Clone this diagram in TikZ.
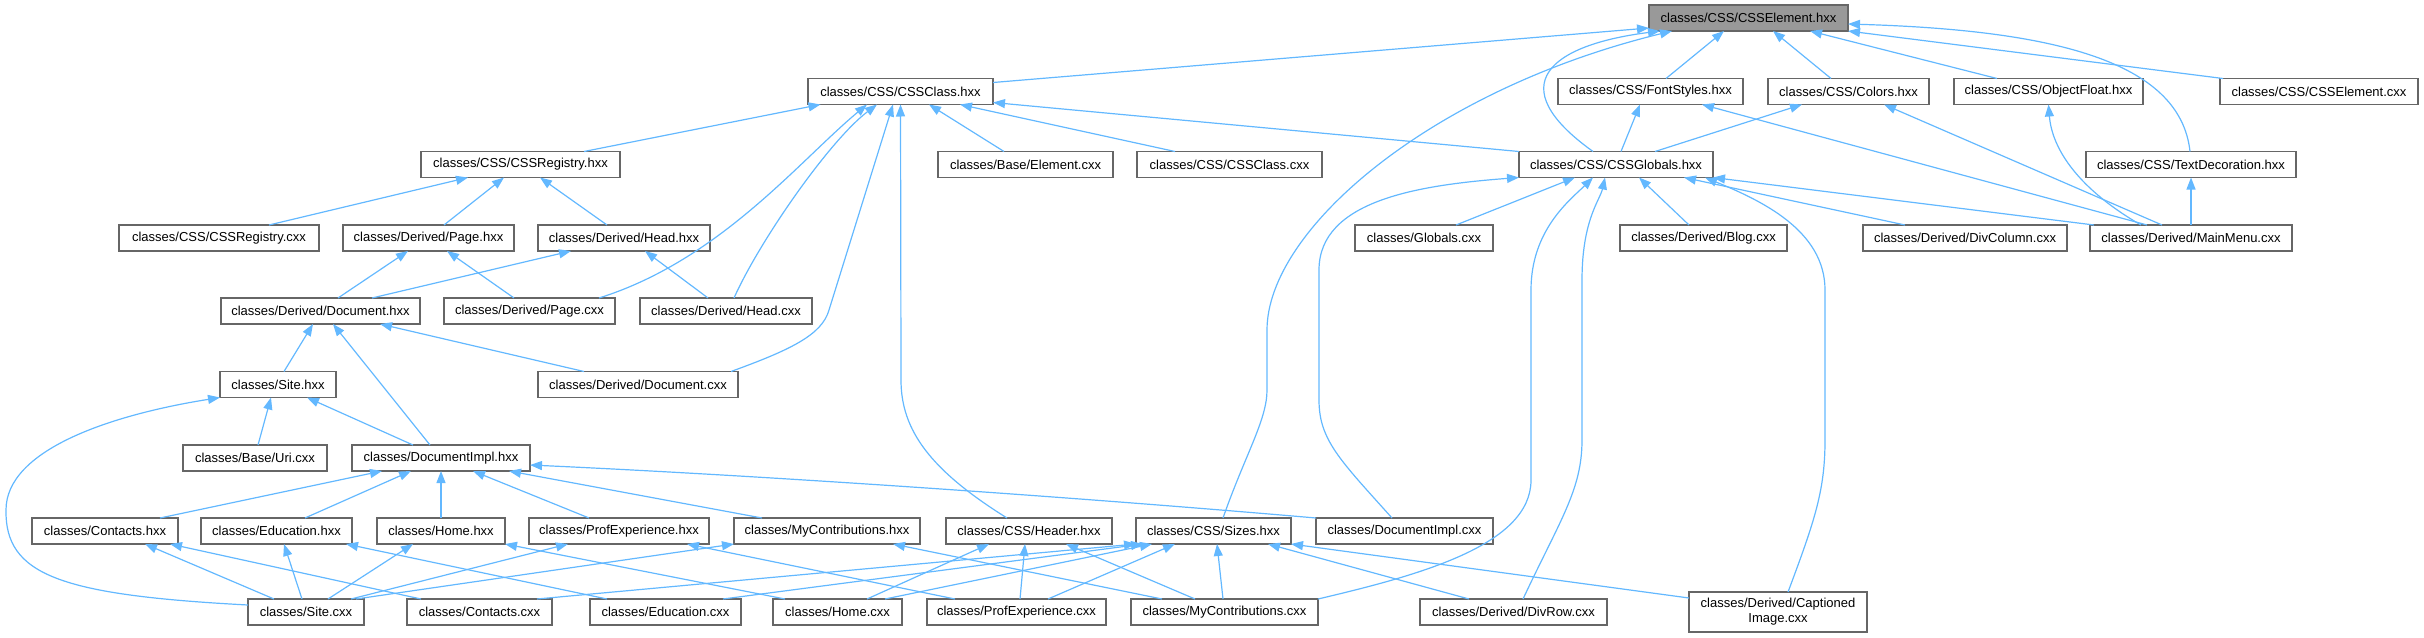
\documentclass[tikz,border=0pt]{standalone}
\usepackage{fontspec}
\setmainfont{Liberation Sans}
\usetikzlibrary{arrows.meta,calc}
\definecolor{edgec}{HTML}{63B8FF}
\definecolor{nodeb}{HTML}{666666}
\definecolor{rootf}{HTML}{999999}
\tikzset{
 box/.style={draw=nodeb, line width=1.3pt, fill=white, minimum height=26pt, inner sep=0pt, outer sep=0pt, font=\fontsize{13}{15}\selectfont, text=black},
 rootbox/.style={box, fill=rootf},
 edge/.style={draw=edgec, line width=1.2pt, -{Triangle[length=12pt,width=9pt]}},
}
\begin{document}
\begin{tikzpicture}[x=1pt,y=-1pt]
\useasboundingbox (0,0) rectangle (2424,637);
% row 1
\node[rootbox,minimum width=199pt] (el) at (1748.5,18) {classes/CSS/CSSElement.hxx};
% row 2
\node[box,minimum width=185pt] (cls) at (900.5,91.5) {classes/CSS/CSSClass.hxx};
\node[box,minimum width=185pt] (font) at (1650.5,91.5) {classes/CSS/FontStyles.hxx};
\node[box,minimum width=161pt] (col) at (1848.5,91.5) {classes/CSS/Colors.hxx};
\node[box,minimum width=189pt] (obj) at (2048.5,91.5) {classes/CSS/ObjectFloat.hxx};
\node[box,minimum width=198pt] (elc) at (2319,91.5) {classes/CSS/CSSElement.cxx};
% row 3
\node[box,minimum width=199pt] (reg) at (520.5,164.5) {classes/CSS/CSSRegistry.hxx};
\node[box,minimum width=175pt] (bel) at (1025.5,164.5) {classes/Base/Element.cxx};
\node[box,minimum width=185pt] (clsc) at (1229.5,164.5) {classes/CSS/CSSClass.cxx};
\node[box,minimum width=194pt] (glob) at (1616,164.5) {classes/CSS/CSSGlobals.hxx};
\node[box,minimum width=210pt] (txt) at (2191,164.5) {classes/CSS/TextDecoration.hxx};
% row 4
\node[box,minimum width=200pt] (regc) at (219,238) {classes/CSS/CSSRegistry.cxx};
\node[box,minimum width=171pt] (pageh) at (428.5,238) {classes/Derived/Page.hxx};
\node[box,minimum width=172pt] (headh) at (624,238) {classes/Derived/Head.hxx};
\node[box,minimum width=138pt] (globc) at (1424,238) {classes/Globals.cxx};
\node[box,minimum width=167pt] (blog) at (1703.5,238) {classes/Derived/Blog.cxx};
\node[box,minimum width=204pt] (divc) at (1965,238) {classes/Derived/DivColumn.cxx};
\node[box,minimum width=202pt] (menu) at (2191,238) {classes/Derived/MainMenu.cxx};
% row 5
\node[box,minimum width=199pt] (doch) at (320.5,311) {classes/Derived/Document.hxx};
\node[box,minimum width=171pt] (pagec) at (529.5,311) {classes/Derived/Page.cxx};
\node[box,minimum width=172pt] (headc) at (726,311) {classes/Derived/Head.cxx};
% row 6
\node[box,minimum width=116pt] (siteh) at (278,384.5) {classes/Site.hxx};
\node[box,minimum width=200pt] (docc) at (638,384.5) {classes/Derived/Document.cxx};
% row 7
\node[box,minimum width=144pt] (uri) at (255,458) {classes/Base/Uri.cxx};
\node[box,minimum width=178pt] (implh) at (441,458) {classes/DocumentImpl.hxx};
% row 8
\node[box,minimum width=146pt] (conh) at (105,531) {classes/Contacts.hxx};
\node[box,minimum width=151pt] (eduh) at (276.5,531) {classes/Education.hxx};
\node[box,minimum width=128pt] (homeh) at (441,531) {classes/Home.hxx};
\node[box,minimum width=180pt] (profh) at (619,531) {classes/ProfExperience.hxx};
\node[box,minimum width=186pt] (myh) at (827,531) {classes/MyContributions.hxx};
\node[box,minimum width=166pt] (header) at (1029,531) {classes/CSS/Header.hxx};
\node[box,minimum width=155pt] (sizes) at (1213.5,531) {classes/CSS/Sizes.hxx};
\node[box,minimum width=177pt] (implc) at (1404.5,531) {classes/DocumentImpl.cxx};
% row 9
\node[box,minimum width=116pt] (sitec) at (306,612) {classes/Site.cxx};
\node[box,minimum width=145pt] (conc) at (479.5,612) {classes/Contacts.cxx};
\node[box,minimum width=151pt] (educ) at (665.5,612) {classes/Education.cxx};
\node[box,minimum width=129pt] (homec) at (837.5,612) {classes/Home.cxx};
\node[box,minimum width=179pt] (profc) at (1016.5,612) {classes/ProfExperience.cxx};
\node[box,minimum width=187pt] (myc) at (1224.5,612) {classes/MyContributions.cxx};
\node[box,minimum width=187pt] (divr) at (1513.5,612) {classes/Derived/DivRow.cxx};
\node[box,minimum width=178pt,minimum height=40pt,align=center] (cap) at (1778,612) {classes/Derived/Captioned\\Image.cxx};

% edges into CSSElement.hxx
\draw[edge] ([yshift=-4pt]cls.north east) -- ([yshift=3pt]el.south west);
\draw[edge] ([xshift=-23pt]glob.north) .. controls (1500,85) and (1550,45) .. ([xshift=-88.5pt]el.south);
\draw[edge] ([xshift=9.5pt]sizes.north) .. controls (1245,455) and (1267,420) .. (1267,390) -- (1267,330) .. controls (1267,230) and (1430,90) .. ([xshift=-76.5pt]el.south);
\draw[edge] ([xshift=15.5pt]font.north) -- ([xshift=-24.5pt]el.south);
\draw[edge] ([xshift=-17.5pt]col.north) -- ([xshift=24.5pt]el.south);
\draw[edge] ([xshift=-51.5pt]obj.north) -- ([xshift=61.5pt]el.south);
\draw[edge] ([xshift=-96pt]elc.north) -- (el.south east);
\draw[edge] ([xshift=-1pt]txt.north) .. controls (2180,60) and (2050,30) .. ([yshift=-6pt]el.east);
% edges into CSSClass.hxx
\draw[edge] ([xshift=63.5pt]reg.north) -- ([xshift=-80pt]cls.south);
\draw[edge] ([xshift=69.5pt]pagec.north) .. controls (720,260) and (800,160) .. ([xshift=-33.5pt]cls.south);
\draw[edge] ([xshift=8pt]headc.north) .. controls (760,240) and (830,140) .. ([xshift=-23.5pt]cls.south);
\draw[edge] ([xshift=93pt]docc.north) .. controls (790,350) and (822,335) .. (829,310) -- ([xshift=-7.5pt]cls.south);
\draw[edge] ([xshift=-22pt]header.north) .. controls (930,470) and (901,430) .. (901,380) -- (cls.south);
\draw[edge] ([xshift=-21.5pt]bel.north) -- ([xshift=28.5pt]cls.south);
\draw[edge] ([xshift=-54.5pt]clsc.north) -- ([xshift=59.5pt]cls.south);
\draw[edge] (glob.north west) -- ([yshift=2pt]cls.south east);
% CSSRegistry.hxx
\draw[edge] ([xshift=50pt]regc.north) -- ([xshift=-52.5pt]reg.south);
\draw[edge] ([xshift=15.5pt]pageh.north) -- ([xshift=-16.5pt]reg.south);
\draw[edge] ([xshift=-17pt]headh.north) -- ([xshift=19.5pt]reg.south);
% Page.hxx, Head.hxx
\draw[edge] ([xshift=17.5pt]doch.north) -- ([xshift=-20.5pt]pageh.south);
\draw[edge] ([xshift=-15.5pt]pagec.north) -- ([xshift=18.5pt]pageh.south);
\draw[edge] ([xshift=51.5pt]doch.north) -- ([xshift=-53pt]headh.south);
\draw[edge] ([xshift=-18pt]headc.north) -- ([xshift=21pt]headh.south);
% Document.hxx
\draw[edge] ([xshift=6pt]siteh.north) -- ([xshift=-7.5pt]doch.south);
\draw[edge] ([xshift=-11pt]implh.north) -- ([xshift=12.5pt]doch.south);
\draw[edge] ([xshift=-54pt]docc.north) -- ([xshift=59.5pt]doch.south);
% Site.hxx
\draw[edge] ([yshift=7pt]sitec.west) .. controls (60,595) and (5,575) .. (6,510) .. controls (6,450) and (110,415) .. (siteh.south west);
\draw[edge] ([xshift=3pt]uri.north) -- ([xshift=-7pt]siteh.south);
\draw[edge] ([xshift=-28pt]implh.north) -- ([xshift=29pt]siteh.south);
% DocumentImpl.hxx
\draw[edge] ([xshift=55pt]conh.north) -- ([xshift=-59pt]implh.south);
\draw[edge] ([xshift=28.5pt]eduh.north) -- ([xshift=-30pt]implh.south);
\draw[edge] (homeh.north) -- (implh.south);
\draw[edge] ([xshift=-30pt]profh.north) -- ([xshift=32pt]implh.south);
\draw[edge] ([xshift=-65pt]myh.north) -- ([xshift=68pt]implh.south);
\draw[edge] (implc.north west) .. controls (1050,495) and (750,475) .. ([yshift=-7pt]implh.east);
% row 8 headers
\draw[edge] ([xshift=-32pt]sitec.north) -- ([xshift=40pt]conh.south);
\draw[edge] ([xshift=-58.5pt]conc.north) -- ([xshift=65pt]conh.south);
\draw[edge] ([xshift=-4pt]sitec.north) -- ([xshift=7.5pt]eduh.south);
\draw[edge] ([xshift=-58.5pt]educ.north) -- ([xshift=69.5pt]eduh.south);
\draw[edge] ([xshift=22pt]sitec.north) -- ([xshift=-28pt]homeh.south);
\draw[edge] ([xshift=-52.5pt]homec.north) -- (homeh.south east);
\draw[edge] ([xshift=45pt]sitec.north) -- ([xshift=-51pt]profh.south);
\draw[edge] ([xshift=-61.5pt]profc.north) -- ([xshift=68pt]profh.south);
\draw[edge] ([xshift=50pt]sitec.north) -- (myh.south west);
\draw[edge] ([xshift=-62.5pt]myc.north) -- ([xshift=66pt]myh.south);
% Header.hxx
\draw[edge] ([xshift=29.5pt]homec.north) -- ([xshift=-40pt]header.south);
\draw[edge] ([xshift=3.5pt]profc.north) -- ([xshift=-4pt]header.south);
\draw[edge] ([xshift=-29.5pt]myc.north) -- ([xshift=37pt]header.south);
% Sizes.hxx
\draw[edge] ([xshift=57.5pt]conc.north) -- (sizes.south west);
\draw[edge] ([xshift=57.5pt]educ.north) -- ([xshift=-70.5pt]sizes.south);
\draw[edge] ([xshift=47.5pt]homec.north) -- ([xshift=-61.5pt]sizes.south);
\draw[edge] ([xshift=31.5pt]profc.north) -- ([xshift=-38.5pt]sizes.south);
\draw[edge] ([xshift=-1.5pt]myc.north) -- ([xshift=3.5pt]sizes.south);
\draw[edge] ([xshift=-44.5pt]divr.north) -- ([xshift=54.5pt]sizes.south);
\draw[edge] ([yshift=14pt]cap.west) -- (sizes.south east);
% CSSGlobals.hxx
\draw[edge] ([xshift=-12.5pt]implc.north) .. controls (1340,460) and (1319,440) .. (1319,400) -- (1319,270) .. controls (1319,200) and (1420,185) .. (glob.south west);
\draw[edge] ([xshift=32pt]globc.north) -- ([xshift=-41pt]glob.south);
\draw[edge] (myc.north east) .. controls (1420,575) and (1531,545) .. (1531,480) -- (1531,290) .. controls (1531,230) and (1570,200) .. ([xshift=-23pt]glob.south);
\draw[edge] ([xshift=9.5pt]divr.north) .. controls (1560,520) and (1582,490) .. (1582,440) -- (1582,280) .. controls (1582,220) and (1600,200) .. ([xshift=-11pt]glob.south);
\draw[edge] ([xshift=-14.5pt]blog.north) -- ([xshift=23pt]glob.south);
\draw[edge] ([xshift=-60pt]divc.north) -- ([xshift=68pt]glob.south);
\draw[edge] ([xshift=-97pt]menu.north) -- (glob.south east);
\draw[edge] ([xshift=10pt]cap.north) .. controls (1815,520) and (1825,490) .. (1825,440) -- (1825,290) .. controls (1825,230) and (1760,200) .. ([xshift=-8pt]glob.south east);
% FontStyles, Colors, ObjectFloat, TextDecoration
\draw[edge] ([xshift=5pt]glob.north) -- ([xshift=-10.5pt]font.south);
\draw[edge] ([xshift=-44pt]menu.north) -- ([xshift=51.5pt]font.south);
\draw[edge] ([xshift=39pt]glob.north) -- ([xshift=-46.5pt]col.south);
\draw[edge] ([xshift=-29pt]menu.north) -- ([xshift=35.5pt]col.south);
\draw[edge] ([xshift=-50pt]menu.north) .. controls (2080,190) and (2052,150) .. (obj.south);
\draw[edge] (menu.north) -- (txt.south);
\end{tikzpicture}
\end{document}
